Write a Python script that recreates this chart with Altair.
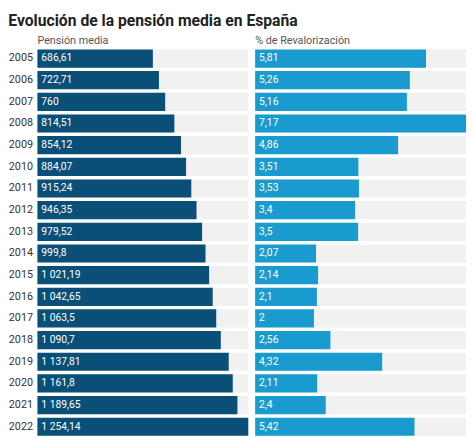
import altair as alt
import pandas as pd

years = [str(y) for y in range(2005, 2023)]
pension_media = [686.61, 722.71, 760, 814.51, 854.12, 884.07, 915.24, 946.35, 979.52,
                 999.8, 1021.19, 1042.65, 1063.5, 1090.7, 1137.81, 1161.8, 1189.65, 1254.14]
revalorizacion = [5.81, 5.26, 5.16, 7.17, 4.86, 3.51, 3.53, 3.4, 3.5,
                  2.07, 2.14, 2.1, 2, 2.56, 4.32, 2.11, 2.4, 5.42]


def fmt_es(v):
    # 1090.7 -> "1 090,7"
    s = f"{float(v):,}"
    if s.endswith(".0"):
        s = s[:-2]
    return s.replace(",", " ").replace(".", ",")


df = pd.DataFrame({
    "year": years,
    "pension": pension_media,
    "reval": revalorizacion,
})
df["pension_lbl"] = df["pension"].map(fmt_es)
df["reval_lbl"] = df["reval"].map(fmt_es)

W, H = 215, 394
FONT = "Roboto"


def panel(field, label, color, title, show_axis):
    sc = alt.Scale(paddingInner=0.16, paddingOuter=0.0)
    if show_axis:
        y = alt.Y("year:N", sort=years, title=None, scale=sc)
    else:
        y = alt.Y("year:N", sort=years, axis=None, scale=sc)
    base = alt.Chart(df)
    bg = base.mark_bar(color="#f1f1f1").encode(y=y, x=alt.value(0), x2=alt.value(W))
    bars = base.mark_bar(color=color).encode(
        y=y,
        x=alt.X(f"{field}:Q", axis=None,
                scale=alt.Scale(domain=[0, max(df[field])], nice=False)),
    )
    txt = base.mark_text(align="left", baseline="middle", dx=4, color="white",
                         fontSize=10.5, font=FONT).encode(
        y=y, x=alt.value(0), text=f"{label}:N")
    return alt.layer(bg, bars, txt).properties(
        width=W, height=H,
        title=alt.TitleParams(title, anchor="start", frame="group", fontSize=11,
                              fontWeight="normal", color="#555", font=FONT, offset=4),
    )


left = panel("pension", "pension_lbl", "#0a4f78", "Pensión media", True)
right = panel("reval", "reval_lbl", "#1a9bcf", "% de Revalorización", False)

chart = alt.hconcat(left, right, spacing=7).properties(
    title=alt.TitleParams("Evolución de la pensión media en España", anchor="start",
                          fontSize=16, fontWeight="bold", color="#222", font=FONT, offset=6),
    padding=0,
).configure_view(stroke=None).configure_axis(
    labelFont=FONT, labelFontSize=11, labelColor="#333", ticks=False, domain=False,
    labelPadding=5,
)

chart.save("out.html", embed_options={"renderer": "svg", "actions": False})
